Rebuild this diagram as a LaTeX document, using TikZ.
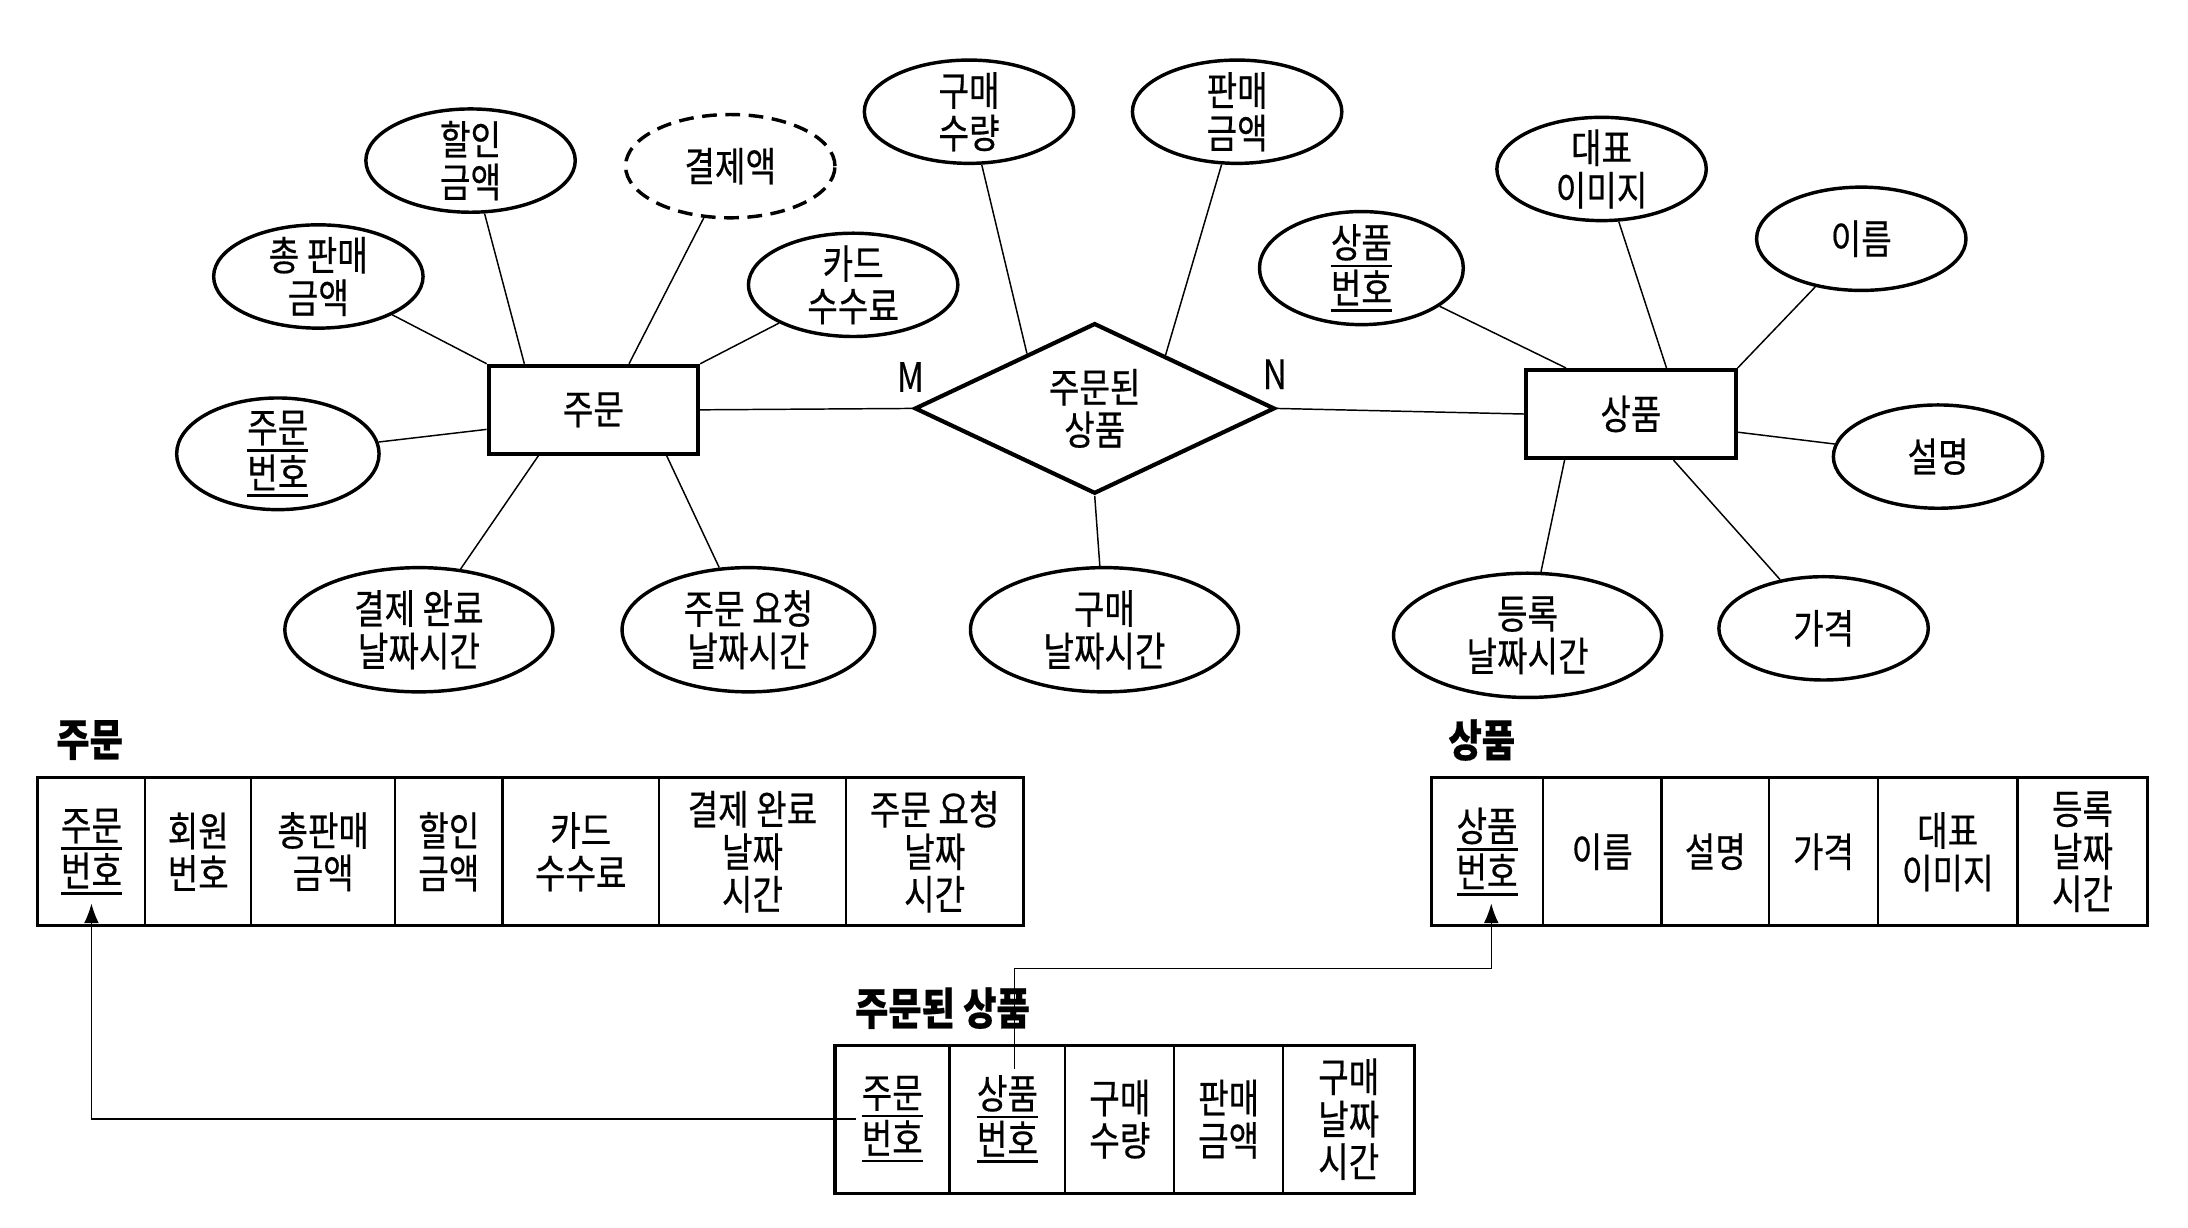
\documentclass[tikz,border=0pt]{standalone}
\usepackage{fontspec}
\setmainfont{Noto Sans CJK KR}[FakeStretch=0.82, FakeBold=0.4]
\usetikzlibrary{positioning,shapes.geometric,arrows.meta}

% key attribute: thick underline
\newcommand{\pkey}[1]{\vtop{\hbox{#1}\kern1.6pt\hrule height 1.1pt}}

\tikzset{
  entity/.style={draw, line width=1.7pt, minimum width=3cm, minimum height=1.26cm},
  relship/.style={draw, diamond, line width=1.7pt, inner sep=0pt, minimum width=5.16cm, minimum height=1.94cm, align=center},
  attr/.style={draw, ellipse, line width=1.4pt, inner sep=-5pt, minimum width=3cm, minimum height=1.48cm, align=center},
  attrwide/.style={attr, minimum width=3.84cm, minimum height=1.78cm},
  derived/.style={attr, dash pattern=on 6pt off 3.5pt},
  link/.style={line width=0.6pt},
  fk/.style={link, -{Latex[length=8pt,width=6pt]}},
  cell/.style={draw, line width=0.9pt, outer sep=0pt, inner sep=0pt, minimum height=2.12cm, align=center},
  frame/.style={line width=1.3pt},
  tabtitle/.style={font=\fontsize{18}{20}\selectfont\bfseries, anchor=west, inner sep=0pt},
}

\begin{document}
\begin{tikzpicture}[x=0.02cm, y=-0.02cm, font=\fontsize{16.5}{17.3}\selectfont]
	\useasboundingbox (0,0) rectangle (1567,879.4);

	% entities and relationship
	\node[entity] (order) at (425,293.5) {주문};
	\node[relship] (ordered) at (784,292.5) {주문된\\상품};
	\node[entity] (prod) at (1168,296.5) {상품};
	\node (m) at (652,270) {M};
	\node (n) at (913,268) {N};
	\draw[link] (order.east) -- (ordered.west);
	\draw[link] (ordered.east) -- (prod.west);

	% attributes of 주문
	\node[attr] (tot) at (228,198) {총 판매\\금액};
	\node[attr] (disc) at (337,115) {할인\\금액};
	\node[derived] (pay) at (523,119) {결제액};
	\node[attr] (fee) at (611,204) {카드\\수수료};
	\node[attr, minimum width=2.9cm, minimum height=1.6cm] (onum) at (199,325) {\pkey{주문}\\\pkey{번호}};
	\node[attrwide] (done) at (300,451) {결제 완료\\날짜시간};
	\node[attrwide, minimum width=3.62cm] (req) at (536,451) {주문 요청\\날짜시간};
	\draw[link] (tot) -- (order.north west);
	\draw[link] (disc) -- ([xshift=0.54cm]order.north west);
	\draw[link] (pay) -- ([xshift=2.04cm]order.north west);
	\draw[link] (fee) -- (order.north east);
	\draw[link] (onum) -- ([yshift=-0.94cm]order.north west);
	\draw[link] (done) -- ([xshift=0.74cm]order.south west);
	\draw[link] (req) -- ([xshift=2.58cm]order.south west);

	% attributes of 주문된 상품
	\node[attr] (qty) at (694,80) {구매\\수량};
	\node[attr] (sale) at (886,80) {판매\\금액};
	\node[attrwide] (pdate) at (791,451) {구매\\날짜시간};
	\draw[link] (qty) -- (ordered.141);
	\draw[link] (sale) -- (ordered.37);
	\draw[link] (pdate) -- (ordered.south);

	% attributes of 상품
	\node[attr, minimum width=2.92cm, minimum height=1.62cm] (pnum) at (975,192) {\pkey{상품}\\\pkey{번호}};
	\node[attr] (img) at (1147,121) {대표\\이미지};
	\node[attr] (name) at (1333,171) {이름};
	\node[attr] (desc) at (1388,327) {설명};
	\node[attrwide] (reg) at (1094,455) {등록\\날짜시간};
	\node[attr] (price) at (1306,450) {가격};
	\draw[link] (pnum) -- ([xshift=0.6cm]prod.north west);
	\draw[link] (img) -- ([xshift=2.04cm]prod.north west);
	\draw[link] (name) -- (prod.north east);
	\draw[link] (desc) -- ([yshift=-0.92cm]prod.north east);
	\draw[link] (reg) -- ([xshift=0.58cm]prod.south west);
	\draw[link] (price) -- ([xshift=2.14cm]prod.south west);

	% table 주문
	\node[tabtitle] (ttl1) at (40,530) {주문};
	\node[cell, minimum width=1.54cm] (o1) at (65.5,610) {\pkey{주문}\\\pkey{번호}};
	\node[cell, minimum width=1.52cm, right=0pt of o1] (o2) {회원\\번호};
	\node[cell, minimum width=2.06cm, right=0pt of o2] (o3) {총판매\\금액};
	\node[cell, minimum width=1.54cm, right=0pt of o3] (o4) {할인\\금액};
	\node[cell, minimum width=2.24cm, right=0pt of o4] (o5) {카드\\수수료};
	\node[cell, minimum width=2.68cm, right=0pt of o5] (o6) {결제 완료\\날짜\\시간};
	\node[cell, minimum width=2.54cm, right=0pt of o6] (o7) {주문 요청\\날짜\\시간};
	\draw[frame] (o1.north west) rectangle (o7.south east);

	% table 상품
	\node[tabtitle] (ttl2) at (1037,530) {상품};
	\node[cell, minimum width=1.6cm] (p1) at (1065,610) {\pkey{상품}\\\pkey{번호}};
	\node[cell, minimum width=1.7cm, right=0pt of p1] (p2) {이름};
	\node[cell, minimum width=1.54cm, right=0pt of p2] (p3) {설명};
	\node[cell, minimum width=1.56cm, right=0pt of p3] (p4) {가격};
	\node[cell, minimum width=2cm, right=0pt of p4] (p5) {대표\\이미지};
	\node[cell, minimum width=1.86cm, right=0pt of p5] (p6) {등록\\날짜\\시간};
	\draw[frame] (p1.north west) rectangle (p6.south east);

	% table 주문된 상품
	\node[tabtitle] (ttl3) at (612,722) {주문된 상품};
	\node[cell, minimum width=1.64cm] (l1) at (639,801.5) {\pkey{주문}\\\pkey{번호}};
	\node[cell, minimum width=1.66cm, right=0pt of l1] (l2) {\pkey{상품}\\\pkey{번호}};
	\node[cell, minimum width=1.56cm, right=0pt of l2] (l3) {구매\\수량};
	\node[cell, minimum width=1.56cm, right=0pt of l3] (l4) {판매\\금액};
	\node[cell, minimum width=1.88cm, right=0pt of l4] (l5) {구매\\날짜\\시간};
	\draw[frame] (l1.north west) rectangle (l5.south east);

	% foreign keys
	\draw[fk] ([xshift=0.3cm]l1.west) -| ([yshift=0.32cm]o1.south);
	\draw[fk] ([xshift=0.1cm,yshift=-0.34cm]l2.north) -- ++(0,-72) -| ([xshift=0.06cm,yshift=0.32cm]p1.south);
\end{tikzpicture}
\end{document}
